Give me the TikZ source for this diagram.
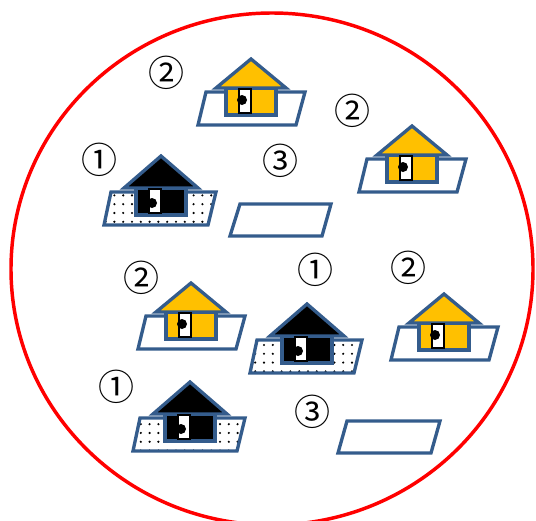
\documentclass[tikz,border=0pt]{standalone}
\usepackage{fontspec}
\newfontfamily\symfont{Noto Sans CJK JP}
\usetikzlibrary{patterns.meta}
\definecolor{edgeblue}{RGB}{52,92,140}
\definecolor{roofyellow}{RGB}{255,192,0}
\tikzset{
  plotline/.style={draw=edgeblue,line width=2.5pt,line join=miter},
  plotdots/.style={pattern={Dots[radius=.9pt,distance=6.6pt,angle=0]},pattern color=black},
  numlabel/.style={font=\symfont\fontsize{27}{27}\selectfont,inner sep=0pt,yshift=-1.5pt},
  pics/house/.style n args={3}{code={
    \fill[#1] (-25,30) rectangle (25,57);
    \draw[edgeblue,line width=2.5pt] (-25,30) rectangle (25,57);
    \fill[#1] (0,30-#2) -- (-#3,30) -- (#3,30) -- cycle;
    \draw[edgeblue,line width=2.5pt] (0,30-#2) -- (-#3,30) -- (#3,30) -- cycle;
    \fill[white] (-12,31) rectangle (0,55);
    \draw[black,line width=.8pt] (-12,31) rectangle (0,55);
    \fill[black] (-9,#2+13) circle (5);
  }}
}
\begin{document}
\begin{tikzpicture}[x=.75pt,y=-.75pt]
    \useasboundingbox (0,0) rectangle (536,521);
    \draw[red,line width=2.6pt] (272,269) ellipse (261 and 256);
    % plots with a yellow house
    \foreach \hx/\hy in {251/58,412/125,191/282,444/293}{
        \draw[plotline,fill=white] (\hx-45,\hy+34) -- (\hx+54,\hy+34) -- (\hx+45,\hy+67) -- (\hx-53,\hy+67) -- cycle;
        \pic at (\hx,\hy) {house={roofyellow}{29}{35}};
    }
    % plots with a black house
    \foreach \hx/\hy in {161/158,307/306,190/384}{
        \fill[plotdots] (\hx-50,\hy+34) -- (\hx+55,\hy+34) -- (\hx+47,\hy+67) -- (\hx-57,\hy+67) -- cycle;
        \draw[plotline] (\hx-50,\hy+34) -- (\hx+55,\hy+34) -- (\hx+47,\hy+67) -- (\hx-57,\hy+67) -- cycle;
        \pic at (\hx,\hy) {house={black}{32}{37}};
    }
    % empty plots
    \draw[plotline] (240,204) -- (331,204) -- (322,236) -- (230,236) -- cycle;
    \draw[plotline] (347,421) -- (440,421) -- (431,453) -- (338,453) -- cycle;
    \node[numlabel] (numa) at (166,71) {②};
    \node[numlabel] (numb) at (352,109) {②};
    \node[numlabel] (numc) at (99,158) {①};
    \node[numlabel] (numd) at (280,159) {③};
    \node[numlabel] (nume) at (141,276) {②};
    \node[numlabel] (numf) at (315,268) {①};
    \node[numlabel] (numg) at (408,266) {②};
    \node[numlabel] (numh) at (116,385) {①};
    \node[numlabel] (numi) at (312,410) {③};
\end{tikzpicture}
\end{document}
